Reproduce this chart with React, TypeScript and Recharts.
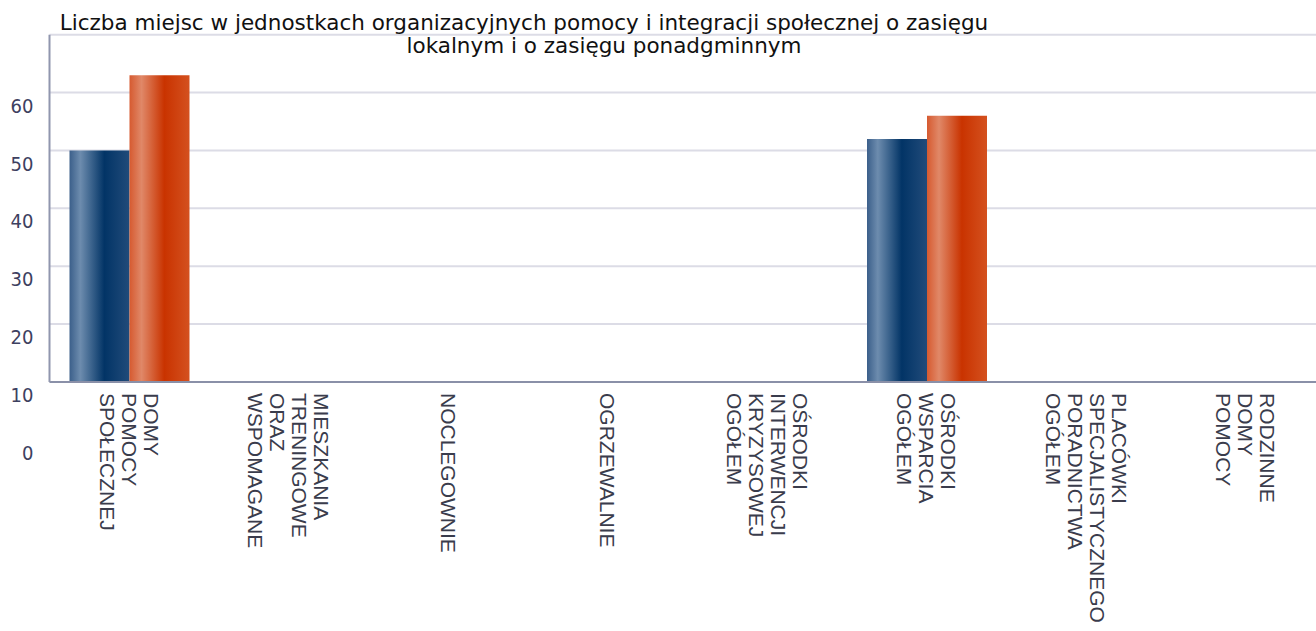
import React from 'react';
import { BarChart, Bar, XAxis, YAxis, CartesianGrid } from 'recharts';

const categories = [
    'DOMY POMOCY SPOŁECZNEJ',
    'MIESZKANIA TRENINGOWE ORAZ WSPOMAGANE',
    'NOCLEGOWNIE',
    'OGRZEWALNIE',
    'OŚRODKI INTERWENCJI KRYZYSOWEJ OGÓŁEM',
    'OŚRODKI WSPARCIA OGÓŁEM',
    'PLACÓWKI SPECJALISTYCZNEGO PORADNICTWA OGÓŁEM',
    'RODZINNE DOMY POMOCY',
];
const lokalne = [50, null, null, null, null, 52, null, null];
const ponadgminne = [63, null, null, null, null, 56, null, null];
const yTickLabels = [0, 10, 20, 30, 40, 50, 60];
const gridTicks = [10, 20, 30, 40, 50, 60, 70];
const titleLines = [
    'Liczba miejsc w jednostkach organizacyjnych pomocy i integracji społecznej o zasięgu',
    'lokalnym i o zasięgu ponadgminnym',
];

const data = categories.map((name, i) => ({
    name,
    lokalne: lokalne[i],
    ponadgminne: ponadgminne[i],
}));

// y labels sit a bit below their grid lines, like in the source image
const YTick = (props: any) => {
    const { x, y, payload } = props;
    return (
        <g transform={`translate(${x - 16},${y + 13}) scale(1,1.1)`}>
            <text
                x={0}
                y={0}
                dy="0.36em"
                textAnchor="end"
                fill="#3d4060"
                fontSize={18}
                fontFamily="'DejaVu Sans', sans-serif"
            >
                {payload.value}
            </text>
        </g>
    );
};

const XTick = (props: any) => {
    const { x, y, payload } = props;
    const lines = String(payload.value).split(' ');
    const n = lines.length;
    return (
        <g transform={`translate(${x},${y + 3}) rotate(90)`}>
            <text fill="#3a3c4c" fontSize={21} fontFamily="'Liberation Sans', Arial, sans-serif">
                {lines.map((l, i) => (
                    <tspan key={i} x={0} y={(i - (n - 1) / 2) * 22 + 7.5}>
                        {l}
                    </tspan>
                ))}
            </text>
        </g>
    );
};

export default function App() {
    return (
        <div style={{ position: 'fixed', left: 0, top: 0, width: 1316, height: 631, overflow: 'hidden', background: '#fff' }}>
            <BarChart
                width={1330}
                height={631}
                data={data}
                margin={{ top: 34.7, right: 4.5, left: 0, bottom: 0 }}
                barGap={0}
            >
                <defs>
                    <linearGradient id="blueBar" x1="0" y1="0" x2="1" y2="0">
                        <stop offset="0%" stopColor="#3b5f8a" />
                        <stop offset="18%" stopColor="#6d8cae" />
                        <stop offset="58%" stopColor="#023466" />
                        <stop offset="100%" stopColor="#214b7a" />
                    </linearGradient>
                    <linearGradient id="orangeBar" x1="0" y1="0" x2="1" y2="0">
                        <stop offset="0%" stopColor="#d65a30" />
                        <stop offset="20%" stopColor="#e08868" />
                        <stop offset="58%" stopColor="#c93300" />
                        <stop offset="100%" stopColor="#d4511f" />
                    </linearGradient>
                </defs>
                <CartesianGrid vertical={false} horizontalValues={gridTicks} stroke="#dcdce6" strokeWidth={2} />
                <XAxis
                    dataKey="name"
                    interval={0}
                    height={249}
                    tickLine={false}
                    axisLine={{ stroke: '#8a90a8', strokeWidth: 2 }}
                    tick={<XTick />}
                />
                <YAxis
                    domain={[10, 70]}
                    ticks={yTickLabels}
                    interval={0}
                    width={49.5}
                    tickLine={false}
                    tickSize={0}
                    tickMargin={0}
                    axisLine={{ stroke: '#9096ae', strokeWidth: 2 }}
                    tick={<YTick />}
                />
                <Bar dataKey="lokalne" barSize={60} fill="url(#blueBar)" isAnimationActive={false} />
                <Bar dataKey="ponadgminne" barSize={60} fill="url(#orangeBar)" isAnimationActive={false} />
            </BarChart>
            <div style={{ position: 'absolute', left: 0, top: 12.3, width: 1316, fontFamily: "'DejaVu Sans', sans-serif", fontSize: 21.5, color: '#111', lineHeight: '22.6px' }}>
                <div style={{ position: 'absolute', left: 524, top: 0, transform: 'translateX(-50%)', whiteSpace: 'nowrap' }}>{titleLines[0]}</div>
                <div style={{ position: 'absolute', left: 604, top: 22.6, transform: 'translateX(-50%)', whiteSpace: 'nowrap' }}>{titleLines[1]}</div>
            </div>
        </div>
    );
}
